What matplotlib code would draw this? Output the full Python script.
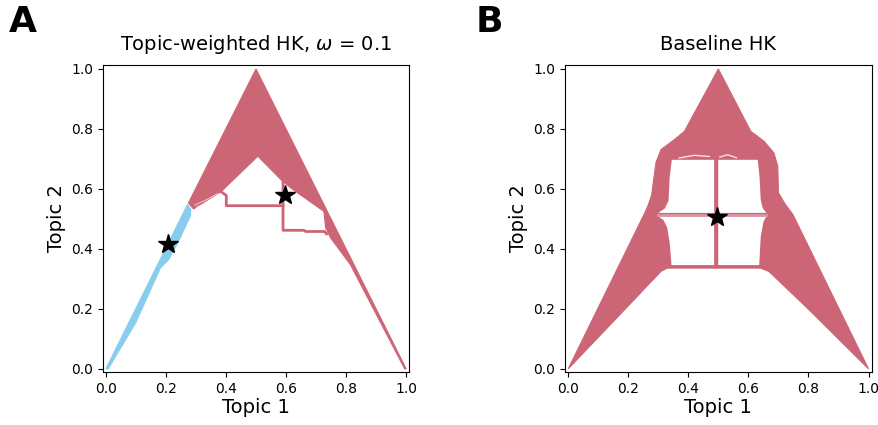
import matplotlib.pyplot as plt

# ==========================================
# colours (Tol muted palette)
# ==========================================
RED = '#CC6677'
RED_LIGHT = '#DB96A2'
BLUE = '#88CCEE'

# ==========================================
# Panel A: topic-weighted HK, omega = 0.1
# outlines of the trajectory bundles
# ==========================================
A_RED_X = [0.500, 0.275, 0.292, 0.385, 0.506, 0.517, 0.583, 0.616, 0.726, 0.732, 0.748, 0.814, 0.995, 1.000]
A_RED_Y = [1.000, 0.553, 0.533, 0.592, 0.709, 0.698, 0.631, 0.603, 0.525, 0.470, 0.437, 0.348, 0.000, 0.000]

A_BLUE_X = [0.000, 0.272, 0.283, 0.281, 0.242, 0.209, 0.182, 0.099, 0.008]
A_BLUE_Y = [0.000, 0.548, 0.531, 0.509, 0.425, 0.364, 0.337, 0.153, 0.000]

# single trajectories that leave the bundle
A_STEP1_X = [0.385, 0.401, 0.401, 0.590]
A_STEP1_Y = [0.590, 0.578, 0.544, 0.544]
A_STEP2_X = [0.590, 0.590, 0.660, 0.665, 0.728, 0.735]
A_STEP2_Y = [0.640, 0.462, 0.462, 0.458, 0.458, 0.450]

# faint gaps inside the red bundle of A
A_GAPS = [
    ([0.296, 0.330, 0.372], [0.547, 0.561, 0.584]),
    ([0.302, 0.340, 0.378], [0.540, 0.553, 0.578]),
]

A_STARS_X = [0.206, 0.597]
A_STARS_Y = [0.417, 0.581]

# ==========================================
# Panel B: baseline HK
# ==========================================
B_OUTER_X = [0.000, 0.199, 0.309, 0.330, 0.640, 0.668, 0.801, 1.000,
             0.748, 0.722, 0.700, 0.698, 0.685, 0.652, 0.608, 0.500,
             0.387, 0.353, 0.309, 0.292, 0.278, 0.266, 0.254]
B_OUTER_Y = [0.000, 0.209, 0.325, 0.336, 0.336, 0.325, 0.198, 0.000,
             0.515, 0.550, 0.587, 0.675, 0.720, 0.759, 0.792, 1.000,
             0.792, 0.764, 0.731, 0.687, 0.580, 0.545, 0.518]

# white holes left between the bundles
B_HOLE_UL_X = [0.345, 0.486, 0.486, 0.300, 0.322, 0.334, 0.338]
B_HOLE_UL_Y = [0.697, 0.697, 0.520, 0.520, 0.535, 0.560, 0.640]
B_HOLE_LL_X = [0.300, 0.486, 0.486, 0.344, 0.338, 0.330, 0.318]
B_HOLE_LL_Y = [0.509, 0.509, 0.346, 0.346, 0.420, 0.470, 0.495]
B_HOLE_UR_X = [0.497, 0.631, 0.637, 0.641, 0.648, 0.660, 0.497]
B_HOLE_UR_Y = [0.697, 0.697, 0.640, 0.564, 0.535, 0.520, 0.520]
B_HOLE_LR_X = [0.497, 0.660, 0.650, 0.641, 0.636, 0.497]
B_HOLE_LR_Y = [0.509, 0.509, 0.490, 0.440, 0.346, 0.346]

B_VLINE_X = [0.491, 0.491]
B_VLINE_Y = [0.342, 0.700]
B_HLINE_X = [0.300, 0.660]
B_HLINE_Y = [0.5145, 0.5145]

# faint gaps in the bundle just above the holes
B_GAPS = [
    ([0.370, 0.420, 0.470], [0.703, 0.712, 0.708]),
    ([0.505, 0.530, 0.560], [0.706, 0.714, 0.704]),
]

B_STAR_X = [0.494]
B_STAR_Y = [0.507]

TICKS = [0.0, 0.2, 0.4, 0.6, 0.8, 1.0]


def style_axes(ax, title):
    ax.set_xlim(-0.01, 1.01)
    ax.set_ylim(-0.01, 1.013)
    ax.set_xticks(TICKS)
    ax.set_yticks(TICKS)
    ax.tick_params(labelsize=10)
    ax.set_xlabel('Topic 1', fontsize=14, labelpad=2)
    ax.set_ylabel('Topic 2', fontsize=14)
    ax.set_title(title, fontsize=14, pad=11)


fig = plt.figure(figsize=(8.79, 4.25), dpi=100)
ax_a = fig.add_axes([0.117, 0.125, 0.3485, 0.722])
ax_b = fig.add_axes([0.643, 0.125, 0.3485, 0.722])

# --- A ---
ax_a.fill(A_RED_X, A_RED_Y, color=RED, lw=0.8, zorder=2)
ax_a.fill(A_BLUE_X, A_BLUE_Y, color=BLUE, lw=0.8, zorder=2)
for gx, gy in A_GAPS:
    ax_a.plot(gx, gy, color='white', lw=0.8, alpha=0.6, zorder=3)
ax_a.plot(A_STEP1_X, A_STEP1_Y, color=RED, lw=2, zorder=3)
ax_a.plot(A_STEP2_X, A_STEP2_Y, color=RED, lw=2, zorder=3)
ax_a.plot(A_STARS_X, A_STARS_Y, ls='none', marker='*', ms=15, color='black', zorder=5)
style_axes(ax_a, r'Topic-weighted HK, $\omega$ = 0.1')

# --- B ---
ax_b.fill(B_OUTER_X, B_OUTER_Y, color=RED, lw=0.8, zorder=2)
for hx, hy in [(B_HOLE_UL_X, B_HOLE_UL_Y), (B_HOLE_LL_X, B_HOLE_LL_Y),
               (B_HOLE_UR_X, B_HOLE_UR_Y), (B_HOLE_LR_X, B_HOLE_LR_Y)]:
    ax_b.fill(hx, hy, color='white', lw=0, zorder=3)
for gx, gy in B_GAPS:
    ax_b.plot(gx, gy, color='white', lw=1.0, alpha=0.8, zorder=3)
ax_b.plot(B_HLINE_X, B_HLINE_Y, color=RED_LIGHT, lw=2, zorder=4)
ax_b.plot(B_VLINE_X, B_VLINE_Y, color=RED, lw=2.5, zorder=4)
ax_b.plot(B_STAR_X, B_STAR_Y, ls='none', marker='*', ms=15, color='black', zorder=5)
style_axes(ax_b, 'Baseline HK')

# panel letters
fig.text(0.010, 0.925, 'A', fontsize=26, fontweight='bold')
fig.text(0.541, 0.925, 'B', fontsize=26, fontweight='bold')

fig.savefig('out.png', dpi=100)
